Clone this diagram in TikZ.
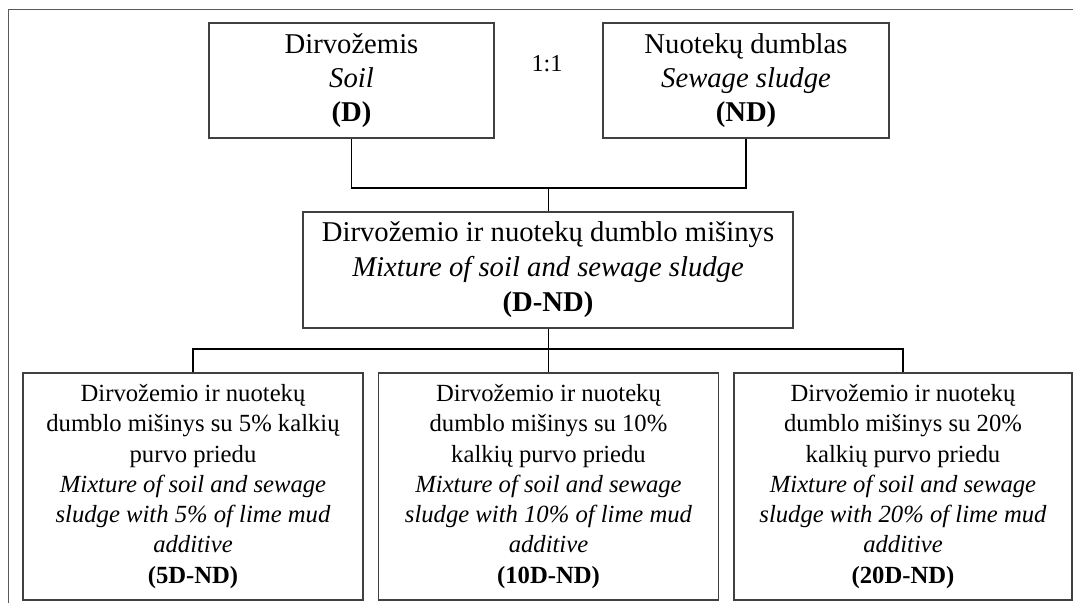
\documentclass[tikz,border=0pt]{standalone}
\usepackage{fontspec}
\setmainfont{Liberation Serif}

\tikzset{every picture/.style={line width=0.75pt}}
\tikzset{
  boxnode/.style={draw={rgb, 255:red, 64; green, 64; blue, 64}, line width=0.9pt, align=center, inner sep=0pt},
  bigtext/.style={font=\fontsize{21.5}{25.5}\selectfont},
  smalltext/.style={font=\fontsize{18.5}{22.7}\selectfont},
  linkline/.style={draw={rgb, 255:red, 0; green, 0; blue, 0}, line width=1.4pt}
}

\begin{document}
\begin{tikzpicture}[x=0.75pt,y=0.75pt,yscale=-1,xscale=1]
\useasboundingbox (0,0) rectangle (1073,603);

%Straight Lines [id:frame]
\draw [color={rgb, 255:red, 90; green, 90; blue, 90}] (8,603) -- (8,9) -- (1073,9) ;

%Shape: Rectangle [id:soil]
\node [boxnode, bigtext, minimum width=213.75pt, minimum height=86.25pt] (soil) at (351.5,80.5) {Dirvožemis\\ \textit{Soil}\\ \textbf{(D)}};
%Shape: Rectangle [id:sludge]
\node [boxnode, bigtext, minimum width=214.5pt, minimum height=86.25pt] (sludge) at (746,80.5) {Nuotekų dumblas\\ \textit{Sewage sludge}\\ \textbf{(ND)}};
%Shape: Rectangle [id:mix]
\node [boxnode, bigtext, minimum width=367.5pt, minimum height=87pt, font=\fontsize{21.5}{26.3}\selectfont] (mix) at (548,270) {Dirvožemio ir nuotekų dumblo mišinys\\ \textit{Mixture of soil and sewage sludge}\\ \textbf{(D-ND)}};

%Shape: Rectangle [id:mixfive]
\node [boxnode, smalltext, minimum width=255pt, minimum height=170.25pt] (mixfive) at (193,486.5) {Dirvožemio ir nuotekų\\ dumblo mišinys su 5\% kalkių\\ purvo priedu\\ \textit{Mixture of soil and sewage}\\ \textit{sludge with 5\% of lime mud}\\ \textit{additive}\\ \textbf{(5D-ND)}};
%Shape: Rectangle [id:mixten]
\node [boxnode, smalltext, minimum width=255pt, minimum height=170.25pt] (mixten) at (548.5,486.5) {Dirvožemio ir nuotekų\\ dumblo mišinys su 10\%\\ kalkių purvo priedu\\ \textit{Mixture of soil and sewage}\\ \textit{sludge with 10\% of lime mud}\\ \textit{additive}\\ \textbf{(10D-ND)}};
%Shape: Rectangle [id:mixtwenty]
\node [boxnode, smalltext, minimum width=253.5pt, minimum height=170.25pt] (mixtwenty) at (903,486.5) {Dirvožemio ir nuotekų\\ dumblo mišinys su 20\%\\ kalkių purvo priedu\\ \textit{Mixture of soil and sewage}\\ \textit{sludge with 20\% of lime mud}\\ \textit{additive}\\ \textbf{(20D-ND)}};

% Text Node
\node [font=\fontsize{18.2}{21.2}\selectfont] (ratio) at (547,64) {1:1};

%Straight Lines [id:join]
\coordinate (join) at (548.5,188);
\draw [linkline] (soil.south) |- (join) -| (sludge.south) ;
\draw [linkline] (join) -- (join |- mix.north) ;
%Straight Lines [id:bus]
\coordinate (bus) at (548.5,349);
\draw [linkline] (bus |- mix.south) -- (bus) ;
\draw [linkline] (mixfive.north) |- (bus) -| (mixtwenty.north) ;
\draw [linkline] (bus) -- (mixten.north) ;

\end{tikzpicture}
\end{document}
